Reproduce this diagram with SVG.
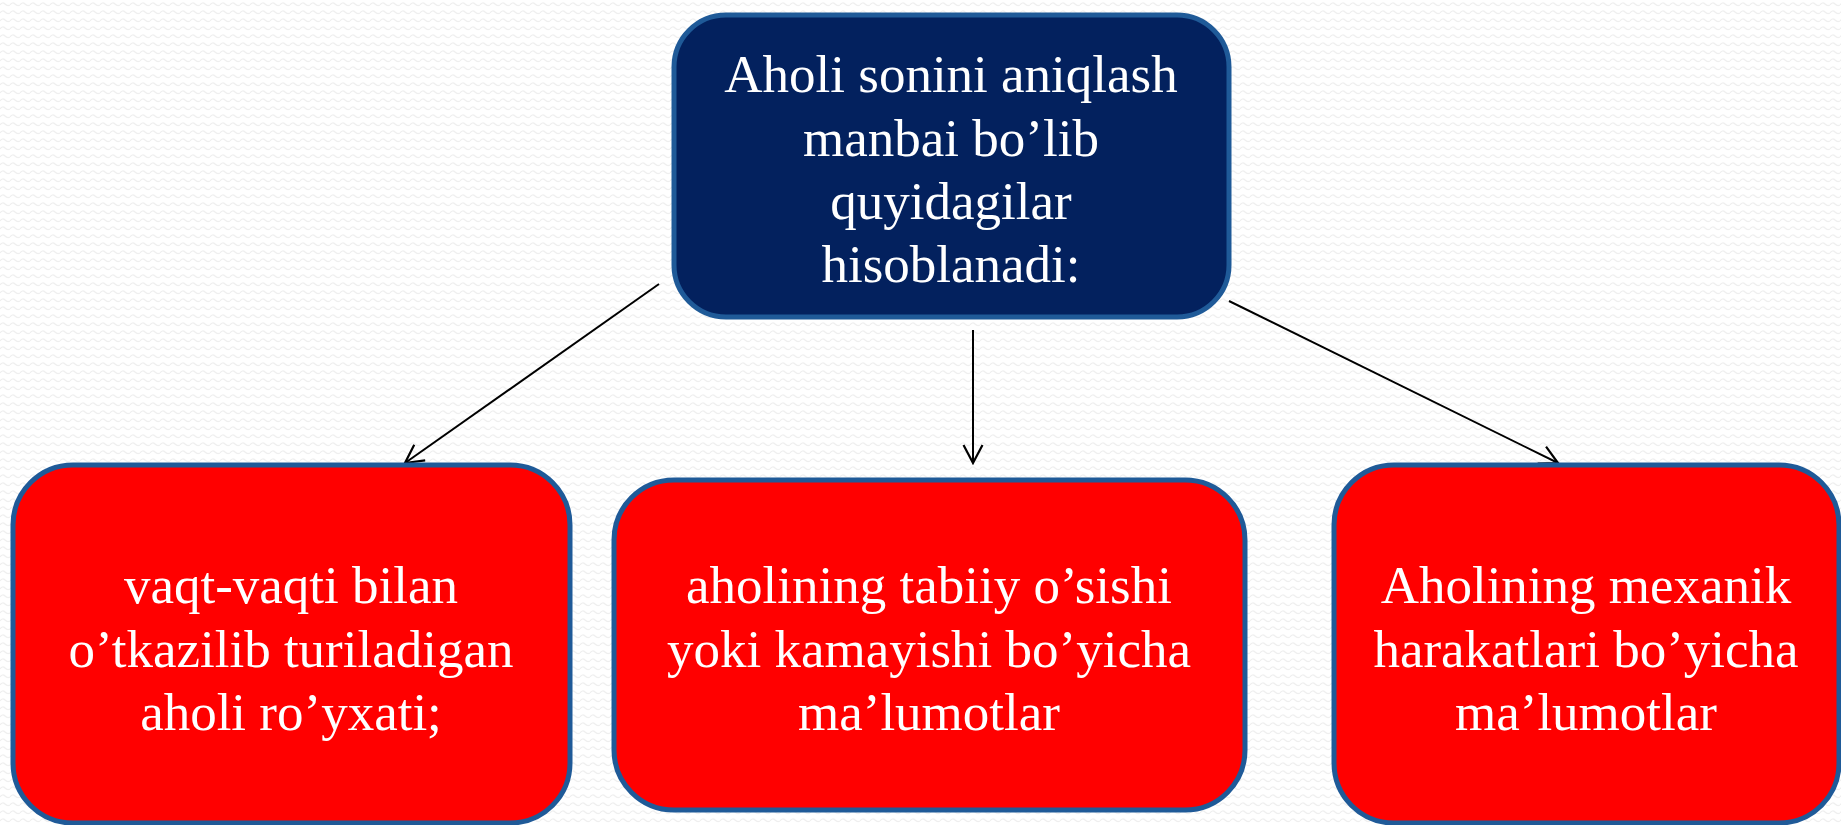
<svg xmlns="http://www.w3.org/2000/svg" width="1841" height="825" viewBox="0 0 1841 825">
<style>
.top{fill:#03215E;stroke:#1F5A98;stroke-width:5}
.red{fill:#FF0000;stroke:#1F5A98;stroke-width:5}
.t{font-family:"Liberation Serif","Times New Roman",serif;font-size:53px;fill:#FFFFFF;text-anchor:middle}
.c{stroke:#000;stroke-width:2;fill:none}
</style>
<defs>
<pattern id="bg" width="10" height="8" patternUnits="userSpaceOnUse">
<path d="M0,5 Q2.5,1.5 5,4 T10,5" fill="none" stroke="#efefef" stroke-width="1.2"/>
</pattern>
<marker id="ah" viewBox="0 0 22 22" refX="20" refY="11" markerWidth="22" markerHeight="22" markerUnits="userSpaceOnUse" orient="auto">
<path d="M2,1.5 L20,11 L2,20.5" fill="none" stroke="#000" stroke-width="2.2"/>
</marker>
</defs>
<rect width="1841" height="825" fill="#ffffff"/>
<rect width="1841" height="825" fill="url(#bg)"/>
<g id="connectors">
<line class="c" x1="659" y1="284" x2="405" y2="463" marker-end="url(#ah)"/>
<line class="c" x1="973" y1="330" x2="973" y2="463" marker-end="url(#ah)"/>
<line class="c" x1="1229" y1="301" x2="1558" y2="463" marker-end="url(#ah)"/>
</g>
<g id="node-top">
<rect class="top" x="674" y="15" width="555" height="302" rx="52"/>
<text class="t" x="951" y="92">Aholi sonini aniqlash</text>
<text class="t" x="951" y="156">manbai bo’lib</text>
<text class="t" x="951" y="219">quyidagilar</text>
<text class="t" x="951" y="282">hisoblanadi:</text>
</g>
<g id="node-left">
<rect class="red" x="13" y="465" width="557" height="358" rx="60"/>
<text class="t" x="291" y="603">vaqt-vaqti bilan</text>
<text class="t" x="291" y="667">o’tkazilib turiladigan</text>
<text class="t" x="291" y="730">aholi ro’yxati;</text>
</g>
<g id="node-middle">
<rect class="red" x="614" y="480" width="631" height="330" rx="60"/>
<text class="t" x="929" y="603">aholining tabiiy o’sishi</text>
<text class="t" x="929" y="667">yoki kamayishi bo’yicha</text>
<text class="t" x="929" y="730">ma’lumotlar</text>
</g>
<g id="node-right">
<rect class="red" x="1334" y="465" width="505" height="358" rx="60"/>
<text class="t" x="1586" y="603">Aholining mexanik</text>
<text class="t" x="1586" y="667">harakatlari bo’yicha</text>
<text class="t" x="1586" y="730">ma’lumotlar</text>
</g>
</svg>
